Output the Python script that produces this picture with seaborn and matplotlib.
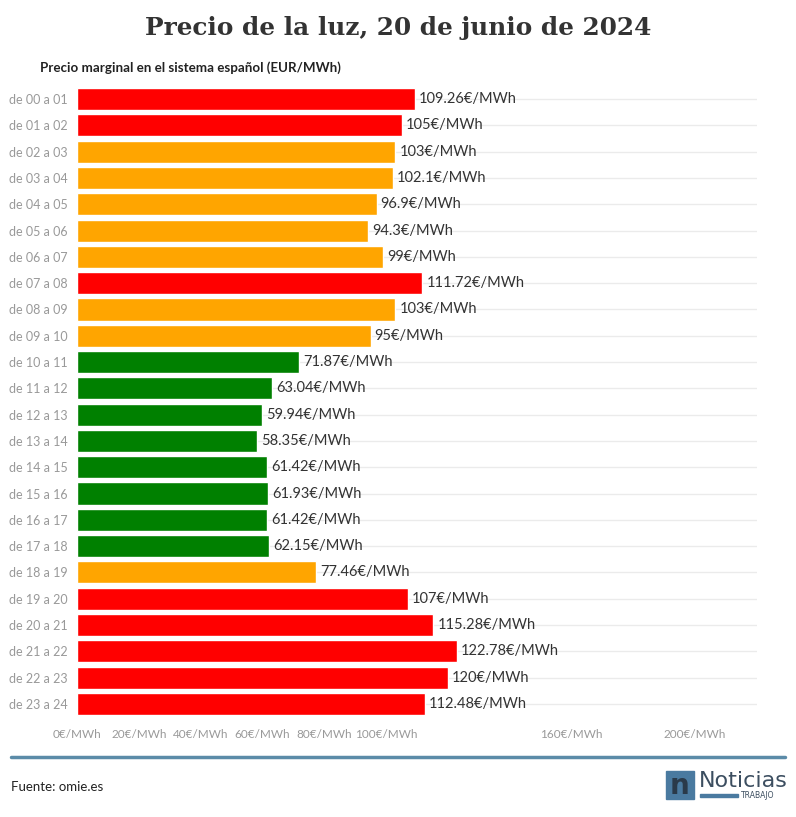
import pandas as pd
import matplotlib.pyplot as plt
import matplotlib.patches as mpatches
import seaborn as sns

hours = ["de %02d a %02d" % (h, h + 1) for h in range(24)]
prices = [109.26, 105, 103, 102.1, 96.9, 94.3, 99, 111.72, 103, 95,
          71.87, 63.04, 59.94, 58.35, 61.42, 61.93, 61.42, 62.15, 77.46,
          107, 115.28, 122.78, 120, 112.48]
levels = ["alto", "alto", "medio", "medio", "medio", "medio", "medio", "alto", "medio", "medio",
          "bajo", "bajo", "bajo", "bajo", "bajo", "bajo", "bajo", "bajo", "medio",
          "alto", "alto", "alto", "alto", "alto"]
level_colors = {"alto": "#ff0000", "medio": "#ffa500", "bajo": "#008000"}
x_ticks = [0, 20, 40, 60, 80, 100, 120, 140, 160, 180, 200, 220]
x_labels_shown = [0, 20, 40, 60, 80, 100, 160, 200]

df = pd.DataFrame({"hora": hours, "precio": prices, "nivel": levels})

sns.set_style("white")
plt.rcParams['font.family'] = ['Lato', 'DejaVu Sans']

fig = plt.figure(figsize=(7.96, 8.17), dpi=100)
ax = fig.add_axes([77 / 796, 1 - 717 / 817, 680 / 796, 631 / 817])

# row guide lines behind the bars
for i in range(len(hours)):
    ax.axhline(i, color="#ebebeb", lw=1, zorder=0)

sns.barplot(data=df, y="hora", x="precio", hue="nivel", palette=level_colors,
            dodge=False, legend=False, width=0.84, saturation=1, ax=ax, zorder=2)

for i, v in enumerate(prices):
    ax.text(v + 1.3, i, "{:g}€/MWh".format(v), va="center", ha="left",
            fontsize=10.5, color="#333333")

ax.set_xlim(0, 220)
ax.set_ylim(len(hours) - 0.5, -0.5)
ax.set_xticks(x_ticks)
ax.set_xticklabels([("%d€/MWh" % t) if t in x_labels_shown else "" for t in x_ticks])
ax.set_xlabel("")
ax.set_ylabel("")
ax.tick_params(axis="x", colors="#dddddd", labelsize=8.5, length=8, width=0.8,
               labelcolor="#999999", pad=1)
ax.tick_params(axis="y", colors="#cccccc", labelsize=9, length=5, width=0.8,
               labelcolor="#999999", pad=2)
for s in ax.spines.values():
    s.set_visible(False)

fig.text(0.5, 1 - 28 / 817, "Precio de la luz, 20 de junio de 2024", ha="center", va="center",
         fontsize=17.8, fontweight="bold", color="#333333", family=["DejaVu Serif"])
fig.text(40 / 796, 1 - 68 / 817, "Precio marginal en el sistema español (EUR/MWh)",
         ha="left", va="center", fontsize=9.6, fontweight="bold", color="#222222")

# footer
fig.add_artist(plt.Line2D([11 / 796, 785 / 796], [1 - 757 / 817] * 2, color="#5b8ba8", lw=2.5))
fig.text(11 / 796, 1 - 787 / 817, "Fuente: omie.es", ha="left", va="center",
         fontsize=9.5, color="#222222")

# logo
fig.add_artist(mpatches.Rectangle((666 / 796, 1 - 799 / 817), 28 / 796, 28 / 817,
                                  color="#4a7aa0", transform=fig.transFigure))
fig.text(680 / 796, 1 - 786 / 817, "n", ha="center", va="center", fontsize=20,
         fontweight="bold", color="#2a3a4a", family=["DejaVu Sans"])
fig.text(699 / 796, 1 - 781 / 817, "Noticias", ha="left", va="center", fontsize=16,
         color="#3c4e60", family=["DejaVu Sans"])
fig.add_artist(mpatches.Rectangle((700 / 796, 1 - 797 / 817), 38 / 796, 3 / 817,
                                  color="#4a7aa0", transform=fig.transFigure))
fig.text(741 / 796, 1 - 796 / 817, "TRABAJO", ha="left", va="center", fontsize=5.5,
         color="#3c4e60", family=["DejaVu Sans"])

fig.savefig("out.png", dpi=100)
